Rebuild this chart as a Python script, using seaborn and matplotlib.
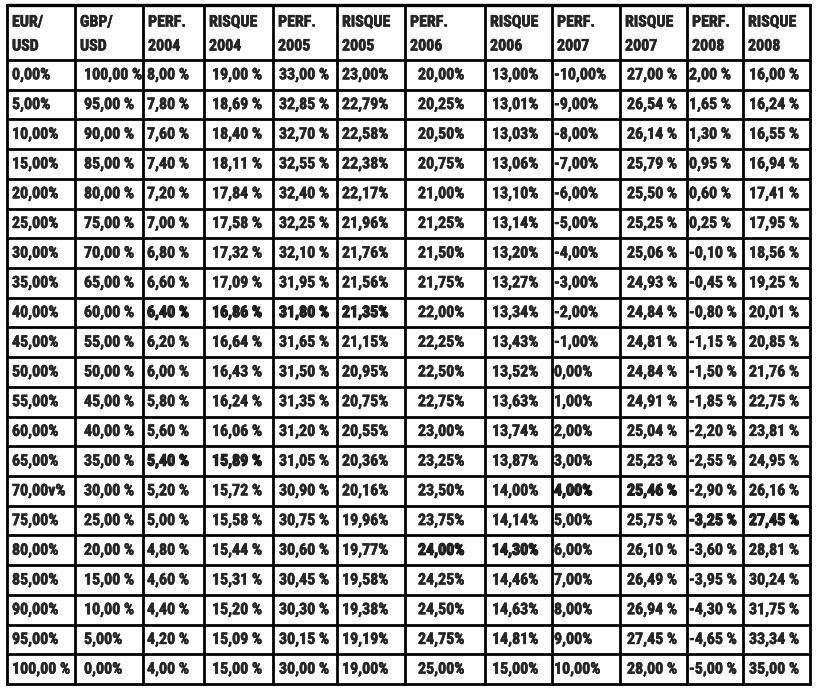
import matplotlib
matplotlib.use("Agg")
import matplotlib.pyplot as plt
import matplotlib.patheffects as pe
import seaborn as sns

# column headers (two lines each)
headers = [("EUR/", "USD"), ("GBP/", "USD"),
           ("PERF.", "2004"), ("RISQUE", "2004"),
           ("PERF.", "2005"), ("RISQUE", "2005"),
           ("PERF.", "2006"), ("RISQUE", "2006"),
           ("PERF.", "2007"), ("RISQUE", "2007"),
           ("PERF.", "2008"), ("RISQUE", "2008")]

# values in %
eur_usd = [0, 5, 10, 15, 20, 25, 30, 35, 40, 45, 50, 55, 60, 65, 70, 75, 80, 85, 90, 95, 100]
gbp_usd = [100, 95, 90, 85, 80, 75, 70, 65, 60, 55, 50, 45, 40, 35, 30, 25, 20, 15, 10, 5, 0]
perf_2004 = [8.00, 7.80, 7.60, 7.40, 7.20, 7.00, 6.80, 6.60, 6.40, 6.20, 6.00,
             5.80, 5.60, 5.40, 5.20, 5.00, 4.80, 4.60, 4.40, 4.20, 4.00]
risque_2004 = [19.00, 18.69, 18.40, 18.11, 17.84, 17.58, 17.32, 17.09, 16.86, 16.64, 16.43,
               16.24, 16.06, 15.89, 15.72, 15.58, 15.44, 15.31, 15.20, 15.09, 15.00]
perf_2005 = [33.00, 32.85, 32.70, 32.55, 32.40, 32.25, 32.10, 31.95, 31.80, 31.65, 31.50,
             31.35, 31.20, 31.05, 30.90, 30.75, 30.60, 30.45, 30.30, 30.15, 30.00]
risque_2005 = [23.00, 22.79, 22.58, 22.38, 22.17, 21.96, 21.76, 21.56, 21.35, 21.15, 20.95,
               20.75, 20.55, 20.36, 20.16, 19.96, 19.77, 19.58, 19.38, 19.19, 19.00]
perf_2006 = [20.00, 20.25, 20.50, 20.75, 21.00, 21.25, 21.50, 21.75, 22.00, 22.25, 22.50,
             22.75, 23.00, 23.25, 23.50, 23.75, 24.00, 24.25, 24.50, 24.75, 25.00]
risque_2006 = [13.00, 13.01, 13.03, 13.06, 13.10, 13.14, 13.20, 13.27, 13.34, 13.43, 13.52,
               13.63, 13.74, 13.87, 14.00, 14.14, 14.30, 14.46, 14.63, 14.81, 15.00]
perf_2007 = [-10.00, -9.00, -8.00, -7.00, -6.00, -5.00, -4.00, -3.00, -2.00, -1.00, 0.00,
             1.00, 2.00, 3.00, 4.00, 5.00, 6.00, 7.00, 8.00, 9.00, 10.00]
risque_2007 = [27.00, 26.54, 26.14, 25.79, 25.50, 25.25, 25.06, 24.93, 24.84, 24.81, 24.84,
               24.91, 25.04, 25.23, 25.46, 25.75, 26.10, 26.49, 26.94, 27.45, 28.00]
perf_2008 = [2.00, 1.65, 1.30, 0.95, 0.60, 0.25, -0.10, -0.45, -0.80, -1.15, -1.50,
             -1.85, -2.20, -2.55, -2.90, -3.25, -3.60, -3.95, -4.30, -4.65, -5.00]
risque_2008 = [16.00, 16.24, 16.55, 16.94, 17.41, 17.95, 18.56, 19.25, 20.01, 20.85, 21.76,
               22.75, 23.81, 24.95, 26.16, 27.45, 28.81, 30.24, 31.75, 33.34, 35.00]

# highlighted (bold) cells: (row, column)
bold_cells = [(8, 2), (8, 3), (8, 4), (8, 5), (13, 2), (13, 3),
              (14, 8), (14, 9), (15, 10), (15, 11), (16, 6), (16, 7)]

columns = [eur_usd, gbp_usd, perf_2004, risque_2004, perf_2005, risque_2005,
           perf_2006, risque_2006, perf_2007, risque_2007, perf_2008, risque_2008]
# separator before the % sign, as printed
seps = ["", " ", " ", " ", " ", "", "", "", "", " ", " ", " "]

def fmt(v, sep):
    return ("%.2f" % v).replace(".", ",") + sep + "%"

cells = [[fmt(v, seps[j]) for v in col] for j, col in enumerate(columns)]
# as printed in the source table
cells[0][14] = "70,00v%"
cells[0][20] = "100,00 %"
cells[1][19] = "5,00%"
cells[1][20] = "0,00%"

sns.set_theme(style="white")
plt.rcParams["font.family"] = ["Roboto Condensed", "Archivo Narrow", "Liberation Sans"]

fig = plt.figure(figsize=(8.17, 6.91), dpi=100)
ax = fig.add_axes([0, 0, 1, 1])
ax.set_xlim(0, 817)
ax.set_ylim(691, 0)
ax.axis("off")

col_edges = [7, 75, 143, 204, 273, 337, 405, 485, 552, 620, 687, 743, 810]
pad = [5, 9, 4, 8, 6, 5, 13, 7, 2, 7, 2, 6]
top, head_bottom, bottom = 5, 60, 684
n_rows = len(eur_usd)
row_h = (bottom - head_bottom) / n_rows

# grid
for x in col_edges:
    ax.plot([x, x], [top, bottom], color="black", lw=2.0, solid_capstyle="projecting")
ax.plot([col_edges[0], col_edges[-1]], [top, top], color="black", lw=2.4)
ax.plot([col_edges[0], col_edges[-1]], [head_bottom, head_bottom], color="black", lw=2.0)
for i in range(1, n_rows + 1):
    y = head_bottom + i * row_h
    ax.plot([col_edges[0], col_edges[-1]], [y, y], color="black", lw=2.0)

fs = 11.5
thin = [pe.withStroke(linewidth=0.35, foreground="black")]
thick = [pe.withStroke(linewidth=0.8, foreground="black")]

for j, (l1, l2) in enumerate(headers):
    x = col_edges[j] + 5
    ax.text(x, 22, l1, fontsize=fs, fontweight="bold", ha="left", va="center", path_effects=thin)
    ax.text(x, 46, l2, fontsize=fs, fontweight="bold", ha="left", va="center", path_effects=thin)

for j, col in enumerate(cells):
    for i, txt in enumerate(col):
        y = head_bottom + (i + 0.5) * row_h
        effects = thick if (i, j) in bold_cells else thin
        ax.text(col_edges[j] + pad[j], y, txt, fontsize=fs, fontweight="bold",
                ha="left", va="center", path_effects=effects)

fig.savefig("out.png", dpi=100, facecolor="white")
